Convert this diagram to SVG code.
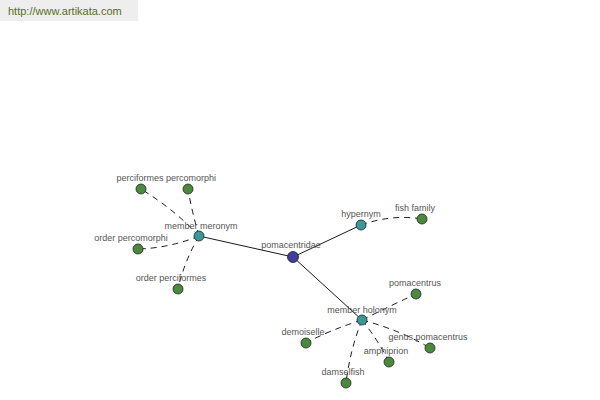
<svg xmlns="http://www.w3.org/2000/svg" width="600" height="400" viewBox="0 0 600 400">
<style>
text{font-family:"Liberation Sans",Arial,sans-serif;font-size:9px;fill:#555;text-anchor:middle}
.n circle{stroke:#222;stroke-width:0.8}
.root{fill:#3d3d9e}
.rel{fill:#3a9898}
.leaf{fill:#4a8a3c}
.s{stroke:#000;stroke-width:0.9;fill:none}
.d{stroke:#000;stroke-width:0.9;fill:none;stroke-dasharray:6,5}
</style>
<rect width="600" height="400" fill="#fff"/>
<rect x="0" y="0" width="138" height="21" fill="#eeeeee"/>
<text x="8" y="15" style="text-anchor:start;font-size:11px;fill:#5a6b2a">http://www.artikata.com</text>
<g id="connectors">
<line class="s" x1="293" y1="257" x2="199" y2="236"/>
<line class="s" x1="293" y1="257" x2="361" y2="225"/>
<line class="s" x1="293" y1="257" x2="362" y2="320"/>
<path class="d" d="M199,236 Q175,210 141,189"/>
<path class="d" d="M199,236 Q192,212 188,189"/>
<path class="d" d="M199,236 Q170,248 138,249"/>
<path class="d" d="M199,236 Q184,262 178,289"/>
<path class="d" d="M361,225 Q392,214 422,219"/>
<path class="d" d="M362,320 Q392,305 416,294"/>
<path class="d" d="M362,320 Q400,330 430,348"/>
<path class="d" d="M362,320 Q378,340 389,362"/>
<path class="d" d="M362,320 Q350,350 346,383"/>
<path class="d" d="M362,320 Q330,330 306,343"/>
</g>
<g id="pomacentridae" class="n"><circle class="root" cx="293" cy="257" r="5.5"/><text x="291" y="248">pomacentridae</text></g>
<g id="member-meronym" class="n"><circle class="rel" cx="199" cy="236" r="5"/><text x="201" y="229">member meronym</text></g>
<g id="hypernym" class="n"><circle class="rel" cx="361" cy="225" r="5"/><text x="361" y="217">hypernym</text></g>
<g id="member-holonym" class="n"><circle class="rel" cx="362" cy="320" r="5"/><text x="362" y="313">member holonym</text></g>
<g id="fish-family" class="n"><circle class="leaf" cx="422" cy="219" r="5"/><text x="415" y="211">fish family</text></g>
<g id="perciformes" class="n"><circle class="leaf" cx="141" cy="189" r="5"/><text x="140" y="181">perciformes</text></g>
<g id="percomorphi" class="n"><circle class="leaf" cx="188" cy="189" r="5"/><text x="191" y="181">percomorphi</text></g>
<g id="order-percomorphi" class="n"><circle class="leaf" cx="138" cy="249" r="5"/><text x="131" y="241">order percomorphi</text></g>
<g id="order-perciformes" class="n"><circle class="leaf" cx="178" cy="289" r="5"/><text x="171" y="281">order perciformes</text></g>
<g id="pomacentrus" class="n"><circle class="leaf" cx="416" cy="294" r="5"/><text x="415" y="286">pomacentrus</text></g>
<g id="genus-pomacentrus" class="n"><circle class="leaf" cx="430" cy="348" r="5"/><text x="428" y="340">genus pomacentrus</text></g>
<g id="amphiprion" class="n"><circle class="leaf" cx="389" cy="362" r="5"/><text x="386" y="354">amphiprion</text></g>
<g id="damselfish" class="n"><circle class="leaf" cx="346" cy="383" r="5"/><text x="343" y="375">damselfish</text></g>
<g id="demoiselle" class="n"><circle class="leaf" cx="306" cy="343" r="5"/><text x="303" y="335">demoiselle</text></g>
</svg>
